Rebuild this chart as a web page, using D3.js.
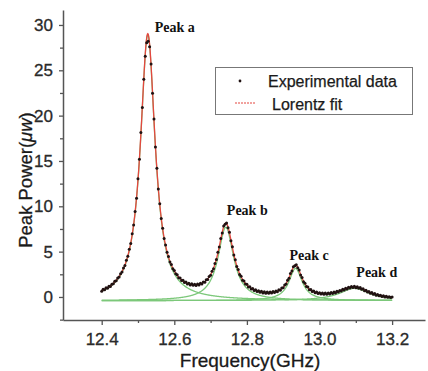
<!DOCTYPE html>
<html>
<head>
<meta charset="utf-8">
<script src="https://cdn.jsdelivr.net/npm/d3@7"></script>
<style>
  html, body { margin: 0; padding: 0; background: #fff; }
  svg { display: block; font-family: Arial, "Liberation Sans", sans-serif; }
</style>
</head>
<body>
<div id="chart"></div>
<script>
// sweep: 12.4 GHz .. 13.2 GHz, one reading every 4 MHz
const sweepStart = 12.4;
const sweepStep = 0.004;
const power = [
  0.62, 0.85, 0.79, 1.01, 0.95, 1.18, 1.16, 1.41, 1.45, 1.72,
  1.78, 2.09, 2.20, 2.57, 2.75, 3.20, 3.47, 4.05, 4.49, 5.26,
  5.90, 6.97, 7.93, 9.44, 10.90, 13.05, 15.18, 18.15, 20.90, 24.02,
  26.55, 28.05, 28.20, 27.60, 25.70, 22.48, 19.62, 16.55, 14.20, 11.90,
  10.28, 8.65, 7.58, 6.45, 5.74, 4.93, 4.47, 3.86, 3.57, 3.10,
  2.93, 2.55, 2.46, 2.12, 2.10, 1.83, 1.85, 1.60, 1.66, 1.43,
  1.52, 1.33, 1.45, 1.28, 1.40, 1.27, 1.42, 1.31, 1.50, 1.44,
  1.65, 1.62, 1.90, 1.93, 2.27, 2.39, 2.85, 3.11, 3.70, 4.12,
  4.92, 5.51, 6.45, 7.06, 7.82, 8.03, 8.15, 7.63, 7.14, 6.20,
  5.55, 4.63, 4.10, 3.37, 3.02, 2.49, 2.28, 1.85, 1.76, 1.42,
  1.39, 1.11, 1.13, 0.88, 0.94, 0.71, 0.80, 0.59, 0.69, 0.51,
  0.62, 0.45, 0.57, 0.42, 0.55, 0.41, 0.56, 0.44, 0.59, 0.49,
  0.66, 0.58, 0.79, 0.75, 0.99, 1.01, 1.32, 1.43, 1.84, 2.06,
  2.58, 2.86, 3.34, 3.44, 3.55, 3.21, 2.97, 2.43, 2.16, 1.68,
  1.52, 1.15, 1.10, 0.81, 0.82, 0.59, 0.65, 0.46, 0.54, 0.37,
  0.47, 0.32, 0.44, 0.30, 0.43, 0.31, 0.45, 0.34, 0.49, 0.38,
  0.55, 0.45, 0.62, 0.54, 0.72, 0.65, 0.84, 0.77, 0.96, 0.89,
  1.08, 0.99, 1.16, 1.04, 1.18, 1.03, 1.13, 0.96, 1.04, 0.84,
  0.90, 0.69, 0.75, 0.55, 0.61, 0.42, 0.48, 0.30, 0.37, 0.20,
  0.28, 0.13, 0.20, 0.06, 0.13, 0.01, 0.08, -0.04, 0.03, -0.07,
  0.00
];

// Lorentz fit parameters
const peakNames = ["Peak a", "Peak b", "Peak c", "Peak d"];
const peakCenters = [12.527, 12.742, 12.934, 13.096];
const peakHeights = [29.3, 8.1, 3.55, 1.35];
const peakHalfWidths = [0.0245, 0.026, 0.022, 0.05];
const fitOffset = -0.4;

const xTicks = [12.4, 12.6, 12.8, 13.0, 13.2];
const xMinor = [12.5, 12.7, 12.9, 13.1];
const yTicks = [0, 5, 10, 15, 20, 25, 30];
const yMinor = [-2.5, 2.5, 7.5, 12.5, 17.5, 22.5, 27.5];

const width = 428, height = 371;

const svg = d3.select("#chart")
  .append("svg")
  .attr("width", width)
  .attr("height", height);

const x = d3.scaleLinear().domain([12.2934, 13.2906]).range([63, 425]);
const y = d3.scaleLinear().domain([-2.54, 31.65]).range([320, 10]);

const data = power.map((p, i) => ({ f: sweepStart + i * sweepStep, p: p }));

function lorentz(f, k) {
  const u = (f - peakCenters[k]) / peakHalfWidths[k];
  return peakHeights[k] / (1 + u * u);
}

const fine = d3.range(0, 801).map(i => 12.4 + i * 0.001);

const line = d3.line()
  .x(d => x(d[0]))
  .y(d => y(d[1]));

// green: single components
peakCenters.forEach((c, k) => {
  svg.append("path")
    .attr("d", line(fine.map(f => [f, fitOffset + lorentz(f, k)])))
    .attr("fill", "none")
    .attr("stroke", "#7cc87a")
    .attr("stroke-width", 1.3);
});

// red: cumulative fit
svg.append("path")
  .attr("d", line(fine.map(f => [f, fitOffset + d3.sum(peakCenters, (c, k) => lorentz(f, k))])))
  .attr("fill", "none")
  .attr("stroke", "#e4473f")
  .attr("stroke-width", 1.3);

// experimental points
svg.append("g")
  .selectAll("circle")
  .data(data)
  .enter()
  .append("circle")
  .attr("cx", d => x(d.f))
  .attr("cy", d => y(d.p))
  .attr("r", 1.5)
  .attr("fill", "#201212");

// axes
svg.append("g")
  .attr("transform", "translate(0,320)")
  .call(d3.axisBottom(x).tickValues(xTicks).tickSize(5).tickSizeOuter(0).tickPadding(8)
    .tickFormat(d3.format(".1f")));
svg.append("g")
  .attr("transform", "translate(0,320)")
  .call(d3.axisBottom(x).tickValues(xMinor).tickSize(3).tickFormat(""))
  .select(".domain").remove();

svg.append("g")
  .attr("transform", "translate(63,0)")
  .call(d3.axisLeft(y).tickValues(yTicks).tickSize(4).tickSizeOuter(0).tickPadding(6));
svg.append("g")
  .attr("transform", "translate(63,0)")
  .call(d3.axisLeft(y).tickValues(yMinor).tickSize(3).tickFormat(""))
  .select(".domain").remove();

svg.selectAll(".domain").attr("stroke", "#555").attr("stroke-width", 1.5);
svg.selectAll(".tick line").attr("stroke", "#555").attr("stroke-width", 1.3);
svg.selectAll(".tick text")
  .attr("fill", "#2a2a2a")
  .attr("stroke", "#2a2a2a")
  .attr("stroke-width", 0.3)
  .style("font-size", "17px")
  .style("font-family", "Arial, 'Liberation Sans', sans-serif");

// axis titles
svg.append("text")
  .attr("x", 250)
  .attr("y", 367)
  .attr("text-anchor", "middle")
  .attr("fill", "#1a1a1a")
  .attr("stroke", "#1a1a1a")
  .attr("stroke-width", 0.3)
  .style("font-size", "19px")
  .text("Frequency(GHz)");

const yTitle = svg.append("text")
  .attr("transform", "translate(32,180) rotate(-90)")
  .attr("text-anchor", "middle")
  .attr("fill", "#1a1a1a")
  .attr("stroke", "#1a1a1a")
  .attr("stroke-width", 0.3)
  .style("font-size", "18.5px");
yTitle.append("tspan").text("Peak Power(");
yTitle.append("tspan").style("font-style", "italic").text("μw");
yTitle.append("tspan").text(")");

// peak labels
const labelShift = [[7, -2], [1, -8], [-6, -5], [2, -10]];
peakNames.forEach((name, k) => {
  const top = fitOffset + d3.sum(peakCenters, (c, j) => lorentz(peakCenters[k], j));
  svg.append("text")
    .attr("x", x(peakCenters[k]) + labelShift[k][0])
    .attr("y", y(top) + labelShift[k][1])
    .attr("fill", "#111")
    .style("font-family", "'Liberation Serif', 'Times New Roman', serif")
    .style("font-weight", "bold")
    .style("font-size", "14px")
    .text(name);
});

// legend
const legend = svg.append("g");
legend.append("rect")
  .attr("x", 215.5)
  .attr("y", 67.5)
  .attr("width", 197)
  .attr("height", 47)
  .attr("fill", "#fff")
  .attr("stroke", "#777")
  .attr("stroke-width", 1);
legend.append("circle")
  .attr("cx", 240)
  .attr("cy", 81)
  .attr("r", 1.4)
  .attr("fill", "#201212");
legend.append("line")
  .attr("x1", 235)
  .attr("x2", 256)
  .attr("y1", 103)
  .attr("y2", 103)
  .attr("stroke", "#e4473f")
  .attr("stroke-width", 1.2)
  .attr("stroke-dasharray", "2,1");
legend.append("text")
  .attr("x", 268)
  .attr("y", 87)
  .attr("fill", "#1a1a1a")
  .attr("stroke", "#1a1a1a")
  .attr("stroke-width", 0.25)
  .style("font-size", "16px")
  .text("Experimental data");
legend.append("text")
  .attr("x", 272)
  .attr("y", 110)
  .attr("fill", "#1a1a1a")
  .attr("stroke", "#1a1a1a")
  .attr("stroke-width", 0.25)
  .style("font-size", "16px")
  .text("Lorentz fit");
</script>
</body>
</html>
